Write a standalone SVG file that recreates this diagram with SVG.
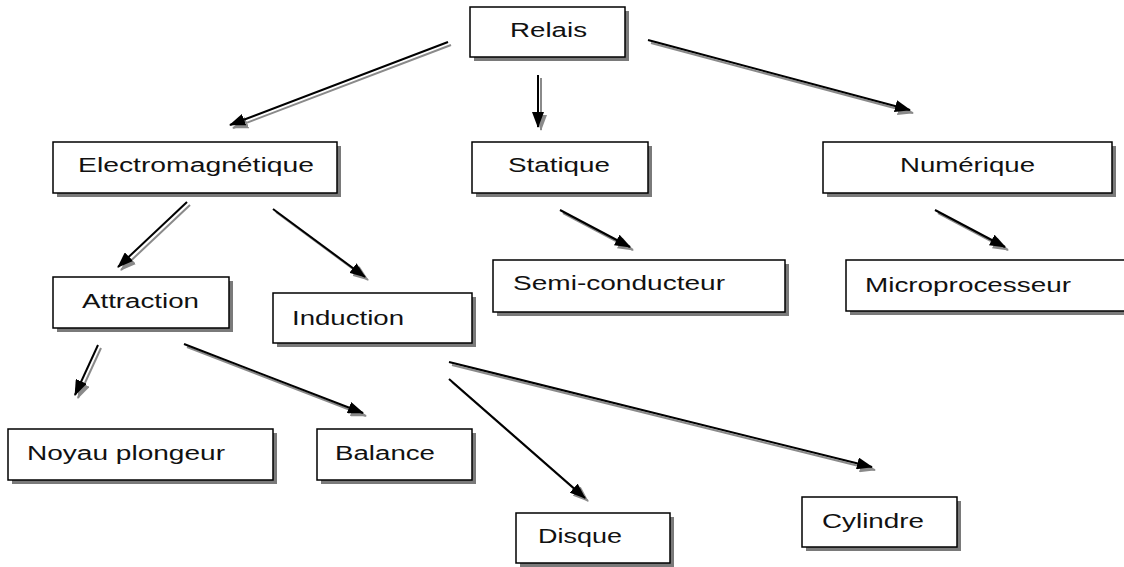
<svg xmlns="http://www.w3.org/2000/svg" width="1124" height="567" viewBox="0 0 1124 567">
<style>
.sh{fill:#7a7a7a;stroke:none}
.bx{fill:#fff;stroke:#000;stroke-width:1.5}
.tx{font-family:"Liberation Sans",Arial,sans-serif;font-size:20px;fill:#111}
.ln{stroke:#000;stroke-width:2;fill:none;marker-end:url(#ah)}
.lns{stroke:#8a8a8a;stroke-width:2;fill:none;marker-end:url(#ahs)}
</style>
<defs>
<marker id="ah" markerUnits="userSpaceOnUse" viewBox="0 0 16 12" refX="15" refY="6" markerWidth="16" markerHeight="12" orient="auto"><path d="M0,0 L16,6 L0,12 Z" fill="#000"/></marker>
<marker id="ahs" markerUnits="userSpaceOnUse" viewBox="0 0 16 12" refX="15" refY="6" markerWidth="16" markerHeight="12" orient="auto"><path d="M0,0 L16,6 L0,12 Z" fill="#8a8a8a"/></marker>
</defs>
<rect width="1124" height="567" fill="#fff"/>
<g id="connectors">
<g transform="translate(3,3)">
<line class="lns" x1="448" y1="42" x2="230" y2="125"/>
<line class="lns" x1="538" y1="75" x2="538" y2="127"/>
<line class="lns" x1="648" y1="40" x2="910" y2="110"/>
<line class="lns" x1="187" y1="202" x2="118" y2="267"/>
<line class="lns" x1="273" y1="209" x2="365" y2="277"/>
<line class="lns" x1="560" y1="210" x2="630" y2="247"/>
<line class="lns" x1="935" y1="210" x2="1005" y2="247"/>
<line class="lns" x1="98" y1="345" x2="75" y2="395"/>
<line class="lns" x1="184" y1="344" x2="363" y2="413"/>
<line class="lns" x1="449" y1="379" x2="585" y2="498"/>
<line class="lns" x1="449" y1="362" x2="872" y2="467"/>
</g>
<line class="ln" x1="448" y1="42" x2="230" y2="125"/>
<line class="ln" x1="538" y1="75" x2="538" y2="127"/>
<line class="ln" x1="648" y1="40" x2="910" y2="110"/>
<line class="ln" x1="187" y1="202" x2="118" y2="267"/>
<line class="ln" x1="273" y1="209" x2="365" y2="277"/>
<line class="ln" x1="560" y1="210" x2="630" y2="247"/>
<line class="ln" x1="935" y1="210" x2="1005" y2="247"/>
<line class="ln" x1="98" y1="345" x2="75" y2="395"/>
<line class="ln" x1="184" y1="344" x2="363" y2="413"/>
<line class="ln" x1="449" y1="379" x2="585" y2="498"/>
<line class="ln" x1="449" y1="362" x2="872" y2="467"/>
</g>
<g id="relais"><rect class="sh" x="474" y="11" width="155" height="50"/><rect class="bx" x="470" y="7" width="155" height="50"/><text class="tx" x="510" y="37" textLength="77" lengthAdjust="spacingAndGlyphs">Relais</text></g>
<g id="electromagnetique"><rect class="sh" x="57" y="146" width="284" height="51"/><rect class="bx" x="53" y="142" width="284" height="51"/><text class="tx" x="78" y="172" textLength="236" lengthAdjust="spacingAndGlyphs">Electromagnétique</text></g>
<g id="statique"><rect class="sh" x="476" y="146" width="176" height="51"/><rect class="bx" x="472" y="142" width="176" height="51"/><text class="tx" x="508" y="172" textLength="102" lengthAdjust="spacingAndGlyphs">Statique</text></g>
<g id="numerique"><rect class="sh" x="827" y="146" width="289" height="51"/><rect class="bx" x="823" y="142" width="289" height="51"/><text class="tx" x="900" y="172" textLength="135" lengthAdjust="spacingAndGlyphs">Numérique</text></g>
<g id="attraction"><rect class="sh" x="57" y="281" width="176" height="51"/><rect class="bx" x="53" y="277" width="176" height="51"/><text class="tx" x="82" y="308" textLength="117" lengthAdjust="spacingAndGlyphs">Attraction</text></g>
<g id="induction"><rect class="sh" x="277" y="297" width="199" height="50"/><rect class="bx" x="273" y="293" width="199" height="50"/><text class="tx" x="292" y="325" textLength="112" lengthAdjust="spacingAndGlyphs">Induction</text></g>
<g id="semiconducteur"><rect class="sh" x="497" y="264" width="292" height="52"/><rect class="bx" x="493" y="260" width="292" height="52"/><text class="tx" x="513" y="290" textLength="212" lengthAdjust="spacingAndGlyphs">Semi-conducteur</text></g>
<g id="microprocesseur"><rect class="sh" x="850" y="264" width="290" height="51"/><rect class="bx" x="846" y="260" width="290" height="51"/><text class="tx" x="865" y="292" textLength="206" lengthAdjust="spacingAndGlyphs">Microprocesseur</text></g>
<g id="noyau"><rect class="sh" x="12" y="433" width="265" height="51"/><rect class="bx" x="8" y="429" width="265" height="51"/><text class="tx" x="27" y="460" textLength="198" lengthAdjust="spacingAndGlyphs">Noyau plongeur</text></g>
<g id="balance"><rect class="sh" x="321" y="433" width="155" height="51"/><rect class="bx" x="317" y="429" width="155" height="51"/><text class="tx" x="335" y="460" textLength="100" lengthAdjust="spacingAndGlyphs">Balance</text></g>
<g id="disque"><rect class="sh" x="520" y="517" width="154" height="50"/><rect class="bx" x="516" y="513" width="154" height="50"/><text class="tx" x="538" y="543" textLength="84" lengthAdjust="spacingAndGlyphs">Disque</text></g>
<g id="cylindre"><rect class="sh" x="806" y="501" width="155" height="50"/><rect class="bx" x="802" y="497" width="155" height="50"/><text class="tx" x="822" y="528" textLength="102" lengthAdjust="spacingAndGlyphs">Cylindre</text></g>
</svg>
